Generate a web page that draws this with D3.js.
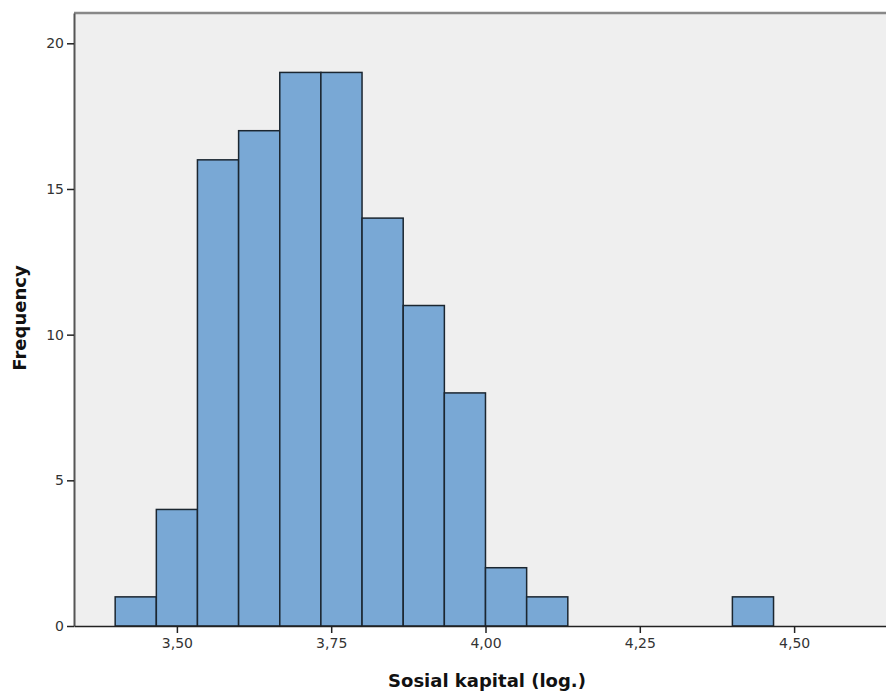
<!DOCTYPE html>
<html>
<head>
<meta charset="utf-8">
<script src="https://cdn.jsdelivr.net/npm/d3@7"></script>
<style>
  body { margin: 0; background: #fff; }
  text { font-family: "DejaVu Sans", sans-serif; }
</style>
</head>
<body>
<div id="chart"></div>
<script>
// bin edges (width 1/15) and counts
const binStarts = [3.40, 3.4667, 3.5333, 3.60, 3.6667, 3.7333, 3.80, 3.8667, 3.9333, 4.00, 4.0667, 4.40];
const binWidth = 1 / 15;
const counts = [1, 4, 16, 17, 19, 19, 14, 11, 8, 2, 1, 1];
const xTicks = [3.50, 3.75, 4.00, 4.25, 4.50];
const yTicks = [0, 5, 10, 15, 20];

const width = 886;
const height = 694;
const margin = { top: 13, left: 74, bottom: 68 };
const plotRight = 897; // plot extends past the window edge

const svg = d3.select('#chart')
    .append('svg')
    .attr('width', width)
    .attr('height', height);

const x = d3.scaleLinear()
    .domain([3.3333, 4.6667])
    .range([margin.left, plotRight]);

const y = d3.scaleLinear()
    .domain([0, 21.04])
    .range([height - margin.bottom, margin.top]);

// plot background
svg.append('rect')
    .attr('x', margin.left)
    .attr('y', margin.top)
    .attr('width', plotRight - margin.left)
    .attr('height', y(0) - margin.top)
    .attr('fill', '#efefef');

// top frame line
svg.append('line')
    .attr('x1', margin.left)
    .attr('x2', plotRight)
    .attr('y1', margin.top)
    .attr('y2', margin.top)
    .attr('stroke', '#888')
    .attr('stroke-width', 2.5);

const bins = binStarts.map((s, i) => ({ x0: s, x1: s + binWidth, n: counts[i] }));

svg.append('g')
    .selectAll('rect')
    .data(bins)
    .enter().append('rect')
    .attr('x', d => x(d.x0))
    .attr('y', d => y(d.n))
    .attr('width', d => x(d.x1) - x(d.x0))
    .attr('height', d => y(0) - y(d.n))
    .attr('fill', '#79a8d5')
    .attr('stroke', '#1b2630')
    .attr('stroke-width', 1.5);

// y axis
const yAxis = svg.append('g')
    .attr('transform', `translate(${margin.left},0)`)
    .call(d3.axisLeft(y).tickValues(yTicks).tickSize(7).tickPadding(3).tickSizeOuter(0));
yAxis.select('.domain').attr('stroke', '#555').attr('stroke-width', 2);
yAxis.selectAll('.tick line').attr('stroke', '#222').attr('stroke-width', 1.5);
yAxis.selectAll('text').attr('font-size', 14).attr('fill', '#333');

// x axis
const fmt = d => d3.format('.2f')(d).replace('.', ',');
const xAxis = svg.append('g')
    .attr('transform', `translate(0,${y(0)})`)
    .call(d3.axisBottom(x).tickValues(xTicks).tickFormat(fmt).tickSize(7).tickPadding(5).tickSizeOuter(0));
xAxis.select('.domain').attr('stroke', '#222').attr('stroke-width', 1.5);
xAxis.selectAll('.tick line').attr('stroke', '#222').attr('stroke-width', 1.5);
xAxis.selectAll('text').attr('font-size', 14).attr('fill', '#333');

// axis titles
svg.append('text')
    .attr('x', 487)
    .attr('y', 687)
    .attr('text-anchor', 'middle')
    .attr('font-size', 18)
    .attr('font-weight', 'bold')
    .attr('fill', '#111')
    .text('Sosial kapital (log.)');

svg.append('text')
    .attr('transform', 'translate(26,318) rotate(-90)')
    .attr('text-anchor', 'middle')
    .attr('font-size', 18)
    .attr('font-weight', 'bold')
    .attr('fill', '#111')
    .text('Frequency');
</script>
</body>
</html>
